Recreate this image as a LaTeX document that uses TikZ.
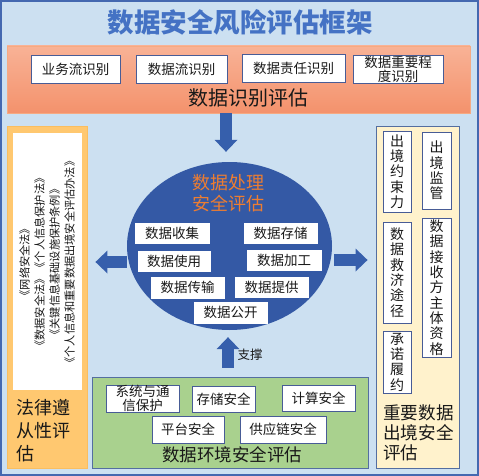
\documentclass[tikz,border=0pt]{standalone}
\usepackage{fontspec}
\setmainfont{Noto Sans CJK SC}
\usetikzlibrary{shapes.geometric,arrows.meta}
\definecolor{bgblue}{RGB}{204,224,241}
\definecolor{frameblue}{RGB}{68,104,176}
\definecolor{titleblue}{RGB}{68,114,196}
\definecolor{arrowblue}{RGB}{54,95,172}
\definecolor{ellblue}{RGB}{52,89,165}
\definecolor{boxline}{RGB}{72,92,150}
\definecolor{txt}{RGB}{25,25,25}
\definecolor{orangetop}{RGB}{248,178,150}
\definecolor{orangebot}{RGB}{244,146,108}
\definecolor{orangeline}{RGB}{246,170,130}
\definecolor{lawfill}{RGB}{255,200,112}
\definecolor{lawline}{RGB}{250,190,95}
\definecolor{yellowfill}{RGB}{255,242,204}
\definecolor{greenfill}{RGB}{169,209,142}
\definecolor{panelline}{RGB}{84,110,160}
\definecolor{ptitle}{RGB}{237,125,49}
\begin{document}
\begin{tikzpicture}[x=1pt,y=-1pt,
  every node/.style={inner sep=0pt, text=txt},
  wbox/.style={draw=boxline, fill=white, line width=0.9pt, align=center,
    font=\fontsize{13.5}{14}\selectfont},
  ebox/.style={draw=white, fill=white, line width=0.5pt, align=center,
    font=\fontsize{13.5}{14}\selectfont},
  vbox/.style={draw=boxline, fill=white, line width=0.9pt, align=center,
    font=\fontsize{14}{15.3}\selectfont},
  panel/.style={line width=0.9pt},
  blockarrow/.style={draw=arrowblue, line width=11.5pt,
    -{Triangle[length=12pt 0 0, width=23pt 0 0, line width=0pt 0 0]}}
]
\useasboundingbox (0,0) rectangle (479,476);
% background
\node[draw=frameblue, fill=bgblue, line width=1.5pt, minimum width=477pt, minimum height=474pt] (bg) at (239.5,238) {};
\node[font=\fontsize{26.5}{30}\selectfont\bfseries, text=titleblue] (title) at (240,22) {数据安全风险评估框架};

% top identification bar
\node[panel, draw=orangeline, top color=orangetop, bottom color=orangebot, minimum width=463pt, minimum height=67pt] (idbar) at (238.5,79.5) {};
\node[wbox, minimum width=89pt, minimum height=28pt] (b1) at (75.5,69) {业务流识别};
\node[wbox, minimum width=91pt, minimum height=28pt] (b2) at (181.5,69) {数据流识别};
\node[wbox, minimum width=103pt, minimum height=28pt] (b3) at (293.5,68) {数据责任识别};
\node[wbox, minimum width=90pt, minimum height=28pt] (b4) at (398,69) {数据重要程\\度识别};
\node[font=\fontsize{20}{22}\selectfont] (idlabel) at (248,98) {数据识别评估};

% left legal panel
\node[panel, draw=lawline, fill=lawfill, minimum width=80pt, minimum height=342pt] (lawpanel) at (47,297) {};
\node[fill=white, minimum width=69pt, minimum height=257pt] (lawbox) at (47.5,261.5) {};
\node[rotate=90, align=center, font=\fontsize{11.2}{15}\selectfont] (lawtext) at (47,262)
  {《网络安全法》\\《数据安全法》《个人信息保护法》\\《关键信息基础设施保护条例》\\《个人信息和重要数据出境安全评估办法》};
\node[anchor=base west, align=left, font=\fontsize{18}{23}\selectfont] (lawlabel) at (16,460) {法律遵\\从性评\\估};

% right panel
\node[panel, draw=panelline, fill=yellowfill, minimum width=83pt, minimum height=342pt] (rpanel) at (417.5,297) {};
\node[vbox, minimum width=28pt, minimum height=81pt] (r1) at (397,171.5) {出\\境\\约\\束\\力};
\node[vbox, minimum width=29pt, minimum height=77pt] (r2) at (436.5,170.5) {出\\境\\监\\管};
\node[vbox, minimum width=28pt, minimum height=101pt] (r3) at (397,272.5) {数\\据\\救\\济\\途\\径};
\node[vbox, minimum width=29pt, minimum height=139pt] (r4) at (436.5,287.5) {数\\据\\接\\收\\方\\主\\体\\资\\格};
\node[vbox, minimum width=28pt, minimum height=62pt] (r5) at (397,362) {承\\诺\\履\\约};
\node[anchor=base west, align=left, font=\fontsize{17.6}{20}\selectfont] (rlabel) at (383,459) {重要数据\\出境安全\\评估};

% green panel
\node[panel, draw=panelline, fill=greenfill, minimum width=276pt, minimum height=91pt] (green) at (230,422.5) {};
\node[wbox, minimum width=73pt, minimum height=27pt] (g1) at (142.5,398.5) {系统与通\\信保护};
\node[wbox, minimum width=63pt, minimum height=26pt] (g2) at (223.5,399) {存储安全};
\node[wbox, minimum width=73pt, minimum height=26pt] (g3) at (318.5,398) {计算安全};
\node[wbox, minimum width=72pt, minimum height=27pt] (g4) at (188,429.5) {平台安全};
\node[wbox, minimum width=86pt, minimum height=27pt] (g5) at (283,429.5) {供应链安全};
\node[font=\fontsize{17.5}{20}\selectfont] (glabel) at (232,455) {数据环境安全评估};

% central ellipse
\node[ellipse, fill=ellblue, minimum width=205pt, minimum height=168pt] (ell) at (229.5,246) {};
\node[align=center, text=ptitle, font=\fontsize{18}{21}\selectfont] (etitle) at (228,193.5) {数据处理\\安全评估};
\node[ebox, minimum width=74pt, minimum height=20pt] (e1) at (172,233) {数据收集};
\node[ebox, minimum width=73pt, minimum height=20pt] (e2) at (280.5,233) {数据存储};
\node[ebox, minimum width=72pt, minimum height=20pt] (e3) at (174,261) {数据使用};
\node[ebox, minimum width=74pt, minimum height=20pt] (e4) at (284,260) {数据加工};
\node[ebox, minimum width=73pt, minimum height=21pt] (e5) at (187.5,287.5) {数据传输};
\node[ebox, minimum width=73pt, minimum height=20pt] (e6) at (271.5,287) {数据提供};
\node[ebox, minimum width=73pt, minimum height=21pt] (e7) at (230.5,312.5) {数据公开};

% arrows
\coordinate (ax) at (226,0);
\coordinate (ly) at (0,262);
\coordinate (ry) at (0,260);
\coordinate (ux) at (228,0);
\draw[blockarrow, shorten >=10pt] (idbar.south -| ax) -- (ell.north -| ax);
\draw[blockarrow, shorten >=8pt] (ell.west |- ly) -- (lawpanel.east |- ly);
\draw[blockarrow, shorten <=2pt, shorten >=8pt] (ell.east |- ry) -- (rpanel.west |- ry);
\draw[blockarrow, shorten <=9pt, shorten >=7pt] (green.north -| ux) -- (ell.south -| ux);
\node[font=\fontsize{12.5}{14}\selectfont] (support) at (250,355) {支撑};
\end{tikzpicture}
\end{document}
